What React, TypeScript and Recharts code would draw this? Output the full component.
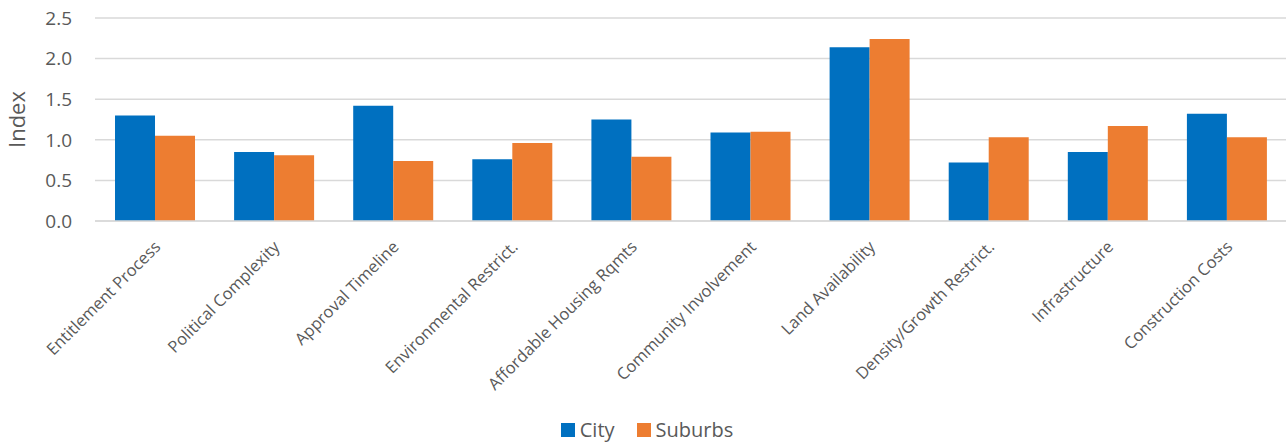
import React from "react";
import { BarChart, Bar, XAxis, YAxis, CartesianGrid, Legend } from "recharts";

const categories = [
  "Entitlement Process",
  "Political Complexity",
  "Approval Timeline",
  "Environmental Restrict.",
  "Affordable Housing Rqmts",
  "Community Involvement",
  "Land Availability",
  "Density/Growth Restrict.",
  "Infrastructure",
  "Construction Costs",
];
const cityValues = [1.30, 0.85, 1.42, 0.76, 1.25, 1.09, 2.14, 0.72, 0.85, 1.32];
const suburbsValues = [1.05, 0.81, 0.74, 0.96, 0.79, 1.10, 2.24, 1.03, 1.17, 1.03];
const yTicks = [0, 0.5, 1.0, 1.5, 2.0, 2.5];

const data = categories.map((c, i) => ({ name: c, City: cityValues[i], Suburbs: suburbsValues[i] }));

const FONT = "'Open Sans', sans-serif";

const XTick = (props: any) => {
  const { x, y, payload } = props;
  return (
    <g transform={`translate(${x + 7},${y + 27}) rotate(-45)`}>
      <text x={0} y={0} textAnchor="end" fill="#595959" fontSize={16.5} fontFamily={FONT}>
        {payload.value}
      </text>
    </g>
  );
};

const LegendContent = () => (
  <div style={{ display: "flex", justifyContent: "center", gap: 22, fontFamily: FONT, fontSize: 20, color: "#595959", paddingTop: 5, paddingLeft: 8 }}>
    {[
      { n: "City", c: "#0070C0" },
      { n: "Suburbs", c: "#ED7D31" },
    ].map((it) => (
      <div key={it.n} style={{ display: "flex", alignItems: "center", gap: 5 }}>
        <span style={{ display: "inline-block", width: 14, height: 14, background: it.c }} />
        <span>{it.n}</span>
      </div>
    ))}
  </div>
);

export default function App() {
  return (
    <div style={{ position: "absolute", left: 0, top: 0, background: "#fff" }}>
      <BarChart
        width={1286}
        height={443}
        data={data}
        margin={{ top: 18, right: 0, bottom: 0, left: 0 }}
        barCategoryGap="16.8%"
        barGap={0}
      >
        <CartesianGrid vertical={false} stroke="#d9d9d9" strokeWidth={1.5} />
        <XAxis
          dataKey="name"
          interval={0}
          height={190}
          tick={<XTick />}
          tickLine={false}
          tickSize={0}
          tickMargin={0}
          axisLine={{ stroke: "#d9d9d9", strokeWidth: 1.5 }}
        />
        <YAxis
          width={95}
          domain={[0, 2.5]}
          ticks={yTicks}
          tickFormatter={(v: number) => v.toFixed(1)}
          tickLine={false}
          axisLine={false}
          tickMargin={17}
          tick={{ fill: "#595959", fontSize: 19, fontFamily: FONT }}
          label={{ value: "Index", angle: -90, position: "insideLeft", dx: 12, fill: "#595959", fontSize: 22, fontFamily: FONT, style: { textAnchor: "middle" } }}
        />
        <Legend verticalAlign="bottom" height={32} content={<LegendContent />} />
        <Bar dataKey="City" fill="#0070C0" isAnimationActive={false} />
        <Bar dataKey="Suburbs" fill="#ED7D31" isAnimationActive={false} />
      </BarChart>
    </div>
  );
}
